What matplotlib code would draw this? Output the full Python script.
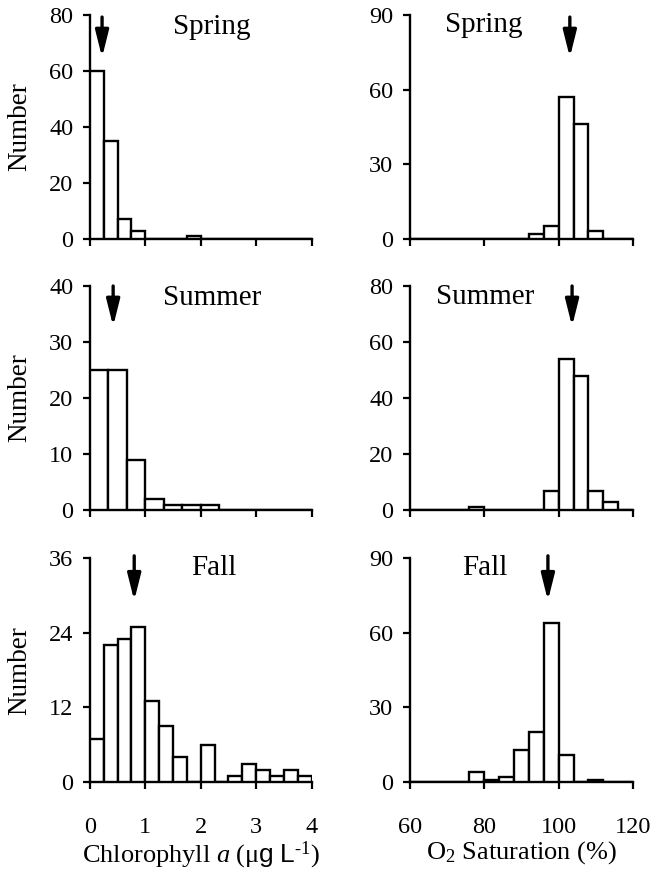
import matplotlib
matplotlib.use('Agg')
import matplotlib.pyplot as plt
import numpy as np

plt.rcParams.update({
    'font.family': 'Liberation Serif',
    'mathtext.fontset': 'custom',
    'mathtext.rm': 'Liberation Serif',
    'mathtext.it': 'Liberation Serif:italic',
    'mathtext.sf': 'Liberation Sans',
})

# Chlorophyll a histograms (bin left edges and counts)
chl_spring_edges = [0, 0.25, 0.5, 0.75, 1.0, 1.25, 1.5, 1.75, 2.0, 2.25, 2.5, 2.75, 3.0, 3.25, 3.5, 3.75]
chl_spring_counts = [60, 35, 7, 3, 0, 0, 0, 1, 0, 0, 0, 0, 0, 0, 0, 0]
chl_summer_edges = [0, 1/3, 2/3, 1, 4/3, 5/3, 2, 7/3, 8/3, 3, 10/3, 11/3]
chl_summer_counts = [25, 25, 9, 2, 1, 1, 1, 0, 0, 0, 0, 0]
chl_fall_edges = [0, 0.25, 0.5, 0.75, 1.0, 1.25, 1.5, 1.75, 2.0, 2.25, 2.5, 2.75, 3.0, 3.25, 3.5, 3.75]
chl_fall_counts = [7, 22, 23, 25, 13, 9, 4, 0, 6, 0, 1, 3, 2, 1, 2, 1]

# O2 saturation histograms
o2_edges = [60, 64, 68, 72, 76, 80, 84, 88, 92, 96, 100, 104, 108, 112, 116]
o2_spring_counts = [0, 0, 0, 0, 0, 0, 0, 0, 2, 5, 57, 46, 3, 0, 0]
o2_summer_counts = [0, 0, 0, 0, 1, 0, 0, 0, 0, 7, 54, 48, 7, 3, 0]
o2_fall_counts = [0, 0, 0, 0, 4, 1, 2, 13, 20, 64, 11, 0, 1, 0, 0]

# mean markers (arrows)
chl_means = [0.22, 0.42, 0.80]
o2_means = [103.0, 103.6, 97.1]

seasons = ['Spring', 'Summer', 'Fall']
chl_yticks = [[0, 20, 40, 60, 80], [0, 10, 20, 30, 40], [0, 12, 24, 36]]
o2_yticks = [[0, 30, 60, 90], [0, 20, 40, 60, 80], [0, 30, 60, 90]]

fig = plt.figure(figsize=(6.56, 8.72), dpi=100)

bottoms = [0.726, 0.415, 0.103]
h = 0.257
left_x, left_w = 0.137, 0.338
right_x, right_w = 0.625, 0.340


def style_axes(ax, show_xlabels):
    for s in ['top', 'right']:
        ax.spines[s].set_visible(False)
    for s in ['left', 'bottom']:
        ax.spines[s].set_linewidth(1.7)
    ax.tick_params(axis='both', direction='out', length=5, width=1.6,
                   labelsize=17.5)
    ax.tick_params(axis='y', pad=7)
    ax.tick_params(axis='x', pad=20)
    if not show_xlabels:
        ax.tick_params(axis='x', labelbottom=False)


def draw_arrow(ax, x, ytip, ytop):
    ax.annotate('', xy=(x, ytip), xytext=(x, ytop),
                arrowprops=dict(arrowstyle='-|>,head_length=1.0,head_width=0.25',
                                color='black', lw=2.4, mutation_scale=16,
                                shrinkA=0, shrinkB=0),
                annotation_clip=False)


chl_data = [(chl_spring_edges, chl_spring_counts, 0.25),
            (chl_summer_edges, chl_summer_counts, 1/3),
            (chl_fall_edges, chl_fall_counts, 0.25)]
o2_data = [o2_spring_counts, o2_summer_counts, o2_fall_counts]
title_pos_left = [(0.55, 0.946), (0.55, 0.946), (0.56, 0.955)]
title_pos_right = [(0.33, 0.955), (0.336, 0.95), (0.336, 0.955)]
arrow_frac = [(0.81, 0.99), (0.82, 1.0), (0.81, 1.01)]

for i in range(3):
    bottom_row = (i == 2)
    # chlorophyll
    ax = fig.add_axes([left_x, bottoms[i], left_w, h])
    edges, counts, w = chl_data[i]
    ax.bar(edges, counts, width=w, align='edge', color='white',
           edgecolor='black', linewidth=1.7, zorder=3)
    ymax = chl_yticks[i][-1]
    ax.set_xlim(0, 4)
    ax.set_ylim(0, ymax)
    ax.set_xticks([0, 1, 2, 3, 4])
    ax.set_yticks(chl_yticks[i])
    style_axes(ax, bottom_row)
    ax.set_ylabel('Number', fontsize=19.5, labelpad=12)
    ax.text(title_pos_left[i][0], title_pos_left[i][1], seasons[i],
            transform=ax.transAxes, ha='center', va='center', fontsize=21)
    draw_arrow(ax, chl_means[i], arrow_frac[i][0] * ymax, arrow_frac[i][1] * ymax)
    if bottom_row:
        ax.set_xlabel('Chlorophyll $\\it{a}$ (\u03bc$\\mathsf{g\\ L}^{\\text{-1}}$)',
                      fontsize=19, labelpad=1)

    # O2 saturation
    ax = fig.add_axes([right_x, bottoms[i], right_w, h])
    ax.bar(o2_edges, o2_data[i], width=4, align='edge', color='white',
           edgecolor='black', linewidth=1.7, zorder=3)
    ymax = o2_yticks[i][-1]
    ax.set_xlim(60, 120)
    ax.set_ylim(0, ymax)
    ax.set_xticks([60, 80, 100, 120])
    ax.set_yticks(o2_yticks[i])
    style_axes(ax, bottom_row)
    ax.text(title_pos_right[i][0], title_pos_right[i][1], seasons[i],
            transform=ax.transAxes, ha='center', va='center', fontsize=21)
    draw_arrow(ax, o2_means[i], arrow_frac[i][0] * ymax, arrow_frac[i][1] * ymax)
    if bottom_row:
        ax.set_xlabel(r'O$_2$ Saturation (%)', fontsize=19, labelpad=1)

fig.savefig('out.png', dpi=100, facecolor='white')
